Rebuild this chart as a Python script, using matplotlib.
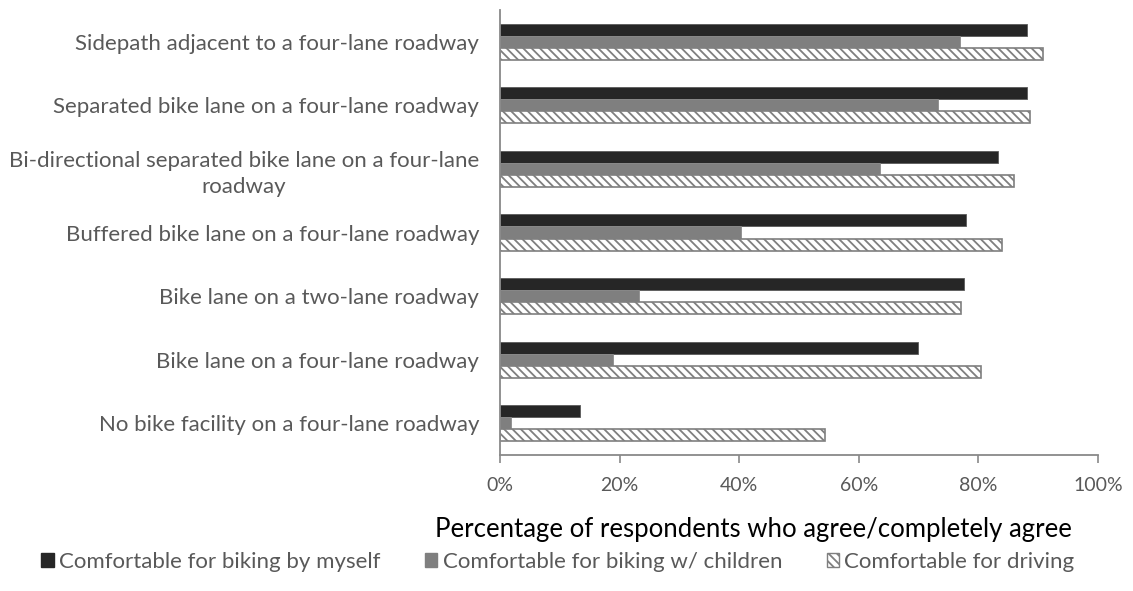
import matplotlib
matplotlib.use("Agg")
import matplotlib.pyplot as plt
import matplotlib.patches as mpatches
import numpy as np

# ── Data ─────────────────────────────────────────────────────
categories = [
    "Sidepath adjacent to a four-lane roadway",
    "Separated bike lane on a four-lane roadway",
    "Bi-directional separated bike lane on a four-lane\nroadway",
    "Buffered bike lane on a four-lane roadway",
    "Bike lane on a two-lane roadway",
    "Bike lane on a four-lane roadway",
    "No bike facility on a four-lane roadway",
]
biking_alone    = [0.881, 0.881, 0.833, 0.779, 0.776, 0.699, 0.133]
biking_children = [0.770, 0.733, 0.636, 0.403, 0.232, 0.189, 0.018]
driving         = [0.908, 0.887, 0.859, 0.840, 0.771, 0.805, 0.543]

series_labels = [
    "Comfortable for biking by myself",
    "Comfortable for biking w/ children",
    "Comfortable for driving",
]
x_ticks = [0, 0.2, 0.4, 0.6, 0.8, 1.0]
x_tick_labels = ["0%", "20%", "40%", "60%", "80%", "100%"]
x_title = "Percentage of respondents who agree/completely agree"

# ── Style ────────────────────────────────────────────────────
BLACK  = "#262626"
GREY   = "#7f7f7f"
INK    = "#595959"
AXIS   = "#898989"
FONT   = ["Lato", "DejaVu Sans"]

plt.rcParams["font.family"] = FONT
plt.rcParams["hatch.color"] = INK
plt.rcParams["hatch.linewidth"] = 1.3

fig = plt.figure(figsize=(11.33, 5.91), dpi=100, facecolor="white")
ax = fig.add_axes([500 / 1133, 1 - 455 / 591, 598 / 1133, 445 / 591])

y = np.arange(len(categories))
h = 0.19

ax.barh(y - h, biking_alone, height=h, color=BLACK,
        edgecolor="#5a5a5a", linewidth=0.6)
ax.barh(y, biking_children, height=h, color=GREY,
        edgecolor="#8c8c8c", linewidth=0.6)
ax.barh(y + h, driving, height=h, color="white",
        edgecolor=GREY, linewidth=1.2, hatch="\\\\\\\\")

ax.set_xlim(0, 1)
ax.set_ylim(len(categories) - 0.5, -0.5)

ax.set_yticks(y)
ax.set_yticklabels(categories, fontsize=16, color=INK,
                   multialignment="center", linespacing=1.4)
ax.tick_params(axis="y", length=0, pad=15)

ax.set_xticks(x_ticks)
ax.set_xticklabels(x_tick_labels, fontsize=14, color=INK)
ax.tick_params(axis="x", length=6, width=1.2, color=AXIS, pad=10,
               direction="out")

for side in ["top", "right"]:
    ax.spines[side].set_visible(False)
for side in ["left", "bottom"]:
    ax.spines[side].set_color(AXIS)
    ax.spines[side].set_linewidth(1.3)

fig.text(753 / 1133, 1 - 530 / 591, x_title, fontsize=18.5,
         color="black", ha="center", va="center")

handles = [
    mpatches.Patch(facecolor=BLACK, edgecolor=BLACK),
    mpatches.Patch(facecolor=GREY, edgecolor=GREY),
    mpatches.Patch(facecolor="white", edgecolor=GREY, hatch="\\\\\\\\"),
]
fig.legend(handles, series_labels, loc="center",
           bbox_to_anchor=(558 / 1133, 1 - 562 / 591), ncol=3,
           frameon=False, fontsize=16, labelcolor=INK,
           handlelength=0.55, handleheight=0.55, handletextpad=0.25,
           columnspacing=2.0)

fig.savefig("out.png", dpi=100, facecolor="white")
